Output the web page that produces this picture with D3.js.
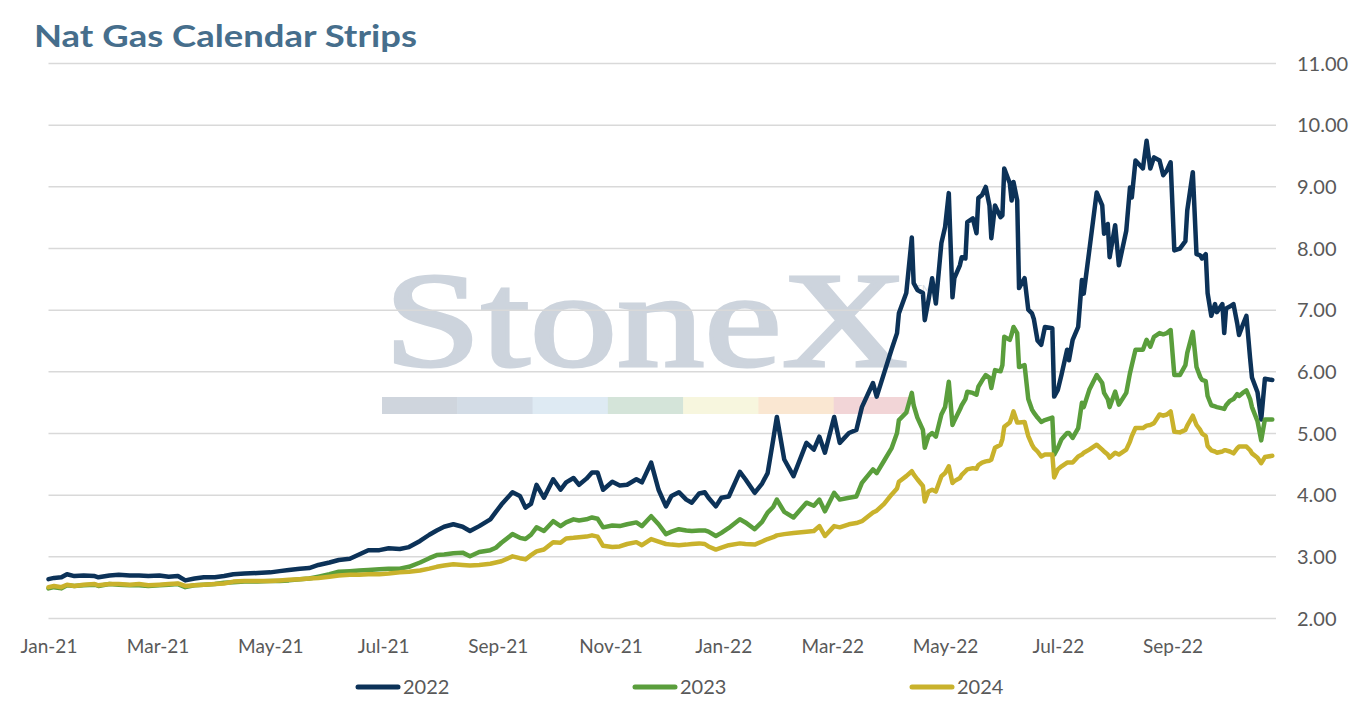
<!DOCTYPE html>
<html lang="en">
<head>
<meta charset="UTF-8">
<title>Nat Gas Calendar Strips</title>
<script src="https://cdnjs.cloudflare.com/ajax/libs/d3/7.8.5/d3.min.js"></script>
<style>
body { margin: 0; background: #fff; }
svg text { font-family: Lato, "Open Sans", sans-serif; }
.grid line { stroke: #d9d9d9; stroke-width: 1.5px; }
.axis text { fill: #595959; font-size: 19px; }
.series { fill: none; stroke-width: 4.5px; stroke-linejoin: round; stroke-linecap: round; }
</style>
</head>
<body>
<div id="chart"></div>
<script>
// settlement dates (rows of 10)
var dates = [
  "2021-01-01","2021-01-04","2021-01-08","2021-01-11","2021-01-15","2021-01-20","2021-01-26","2021-01-28","2021-02-03","2021-02-08",
  "2021-02-14","2021-02-19","2021-02-24","2021-03-02","2021-03-07","2021-03-12","2021-03-16","2021-03-21","2021-03-26","2021-04-01",
  "2021-04-06","2021-04-11","2021-04-17","2021-04-24","2021-05-01","2021-05-06","2021-05-11","2021-05-17","2021-05-22","2021-05-27",
  "2021-06-02","2021-06-07","2021-06-13","2021-06-18","2021-06-23","2021-06-29","2021-07-04","2021-07-10","2021-07-15","2021-07-21",
  "2021-07-26","2021-07-30","2021-08-03","2021-08-08","2021-08-13","2021-08-17","2021-08-22","2021-08-28","2021-08-31","2021-09-03",
  "2021-09-09","2021-09-13","2021-09-16","2021-09-19","2021-09-22","2021-09-26","2021-10-01","2021-10-05","2021-10-08","2021-10-12",
  "2021-10-15","2021-10-19","2021-10-22","2021-10-25","2021-10-28","2021-11-02","2021-11-06","2021-11-10","2021-11-15","2021-11-18",
  "2021-11-23","2021-11-27","2021-12-01","2021-12-04","2021-12-08","2021-12-12","2021-12-15","2021-12-19","2021-12-22","2021-12-24",
  "2021-12-28","2021-12-31","2022-01-04","2022-01-10","2022-01-13","2022-01-18","2022-01-22","2022-01-25","2022-01-28","2022-01-30",
  "2022-02-03","2022-02-08","2022-02-15","2022-02-19","2022-02-22","2022-02-25","2022-03-02","2022-03-05","2022-03-10","2022-03-14",
  "2022-03-17","2022-03-23","2022-03-25","2022-03-29","2022-04-02","2022-04-05","2022-04-06","2022-04-10","2022-04-13","2022-04-14",
  "2022-04-16","2022-04-19","2022-04-20","2022-04-22","2022-04-24","2022-04-26","2022-04-29","2022-05-01","2022-05-03","2022-05-05",
  "2022-05-06","2022-05-09","2022-05-10","2022-05-12","2022-05-13","2022-05-16","2022-05-18","2022-05-19","2022-05-21","2022-05-23",
  "2022-05-25","2022-05-26","2022-05-28","2022-05-31","2022-06-01","2022-06-02","2022-06-05","2022-06-06","2022-06-07","2022-06-09",
  "2022-06-10","2022-06-13","2022-06-15","2022-06-17","2022-06-18","2022-06-20","2022-06-22","2022-06-24","2022-06-28","2022-06-29",
  "2022-07-01","2022-07-03","2022-07-06","2022-07-07","2022-07-09","2022-07-12","2022-07-14","2022-07-15","2022-07-18","2022-07-22",
  "2022-07-25","2022-07-26","2022-07-28","2022-07-29","2022-08-01","2022-08-03","2022-08-07","2022-08-09","2022-08-10","2022-08-12",
  "2022-08-16","2022-08-18","2022-08-20","2022-08-22","2022-08-25","2022-08-27","2022-08-29","2022-08-31","2022-09-02","2022-09-05",
  "2022-09-08","2022-09-09","2022-09-12","2022-09-14","2022-09-16","2022-09-17","2022-09-19","2022-09-20","2022-09-22","2022-09-24",
  "2022-09-25","2022-09-28","2022-09-29","2022-09-30","2022-10-02","2022-10-04","2022-10-06","2022-10-07","2022-10-09","2022-10-11",
  "2022-10-13","2022-10-14","2022-10-17","2022-10-19","2022-10-21","2022-10-25"
];

var strip2022 = [
  2.63,2.65,2.66,2.71,2.68,2.69,2.68,2.66,2.69,2.70,
  2.69,2.69,2.68,2.69,2.67,2.68,2.61,2.64,2.66,2.66,
  2.68,2.71,2.72,2.73,2.74,2.76,2.78,2.80,2.81,2.86,
  2.90,2.94,2.96,3.03,3.10,3.10,3.13,3.12,3.15,3.25,
  3.35,3.42,3.48,3.52,3.48,3.41,3.49,3.60,3.72,3.84,
  4.04,3.98,3.79,3.85,4.16,3.95,4.25,4.08,4.20,4.27,
  4.16,4.26,4.36,4.36,4.08,4.21,4.15,4.16,4.25,4.20,
  4.52,4.08,3.81,3.98,4.04,3.92,3.87,4.02,4.04,3.95,
  3.81,3.95,3.97,4.37,4.25,4.03,4.18,4.35,4.89,5.26,
  4.57,4.30,4.84,4.73,4.94,4.68,5.26,4.84,5.00,5.05,
  5.42,5.81,5.59,5.97,6.35,6.62,6.94,7.27,8.17,7.43,
  7.32,7.27,6.83,7.15,7.51,7.10,8.08,8.34,8.89,7.20,
  7.51,7.72,7.85,7.83,8.42,8.48,8.24,8.81,8.86,8.99,
  8.69,8.16,8.69,8.50,8.53,9.29,9.05,8.77,9.07,8.77,
  7.35,7.51,7.00,6.94,6.85,6.50,6.43,6.72,6.70,5.59,
  5.70,5.95,6.35,6.18,6.51,6.72,7.48,7.26,7.96,8.90,
  8.69,8.23,8.39,7.85,8.37,7.72,8.28,8.98,8.82,9.42,
  9.29,9.74,9.29,9.47,9.42,9.18,9.26,9.39,7.96,7.99,
  8.11,8.61,9.23,7.90,7.88,7.83,7.90,7.27,6.90,7.09,
  6.96,7.09,6.62,7.02,7.05,7.09,6.78,6.59,6.75,6.90,
  6.21,5.90,5.66,5.22,5.88,5.86
];

var strip2023 = [
  2.48,2.50,2.48,2.53,2.52,2.53,2.54,2.52,2.55,2.54,
  2.53,2.53,2.52,2.53,2.54,2.55,2.50,2.53,2.54,2.55,
  2.57,2.58,2.59,2.59,2.60,2.60,2.61,2.63,2.64,2.67,
  2.71,2.75,2.76,2.77,2.78,2.79,2.80,2.80,2.83,2.90,
  2.97,3.02,3.03,3.05,3.06,3.00,3.07,3.10,3.14,3.22,
  3.36,3.30,3.28,3.35,3.47,3.41,3.57,3.49,3.55,3.60,
  3.58,3.60,3.63,3.61,3.47,3.50,3.49,3.52,3.55,3.49,
  3.65,3.52,3.36,3.40,3.44,3.42,3.41,3.42,3.42,3.40,
  3.33,3.38,3.46,3.60,3.55,3.44,3.56,3.71,3.80,3.92,
  3.72,3.63,3.87,3.82,3.92,3.73,4.03,3.92,3.95,3.97,
  4.19,4.41,4.35,4.55,4.75,5.00,5.21,5.33,5.65,5.45,
  5.25,5.05,4.76,4.95,5.00,4.94,5.30,5.42,5.83,5.13,
  5.20,5.38,5.45,5.55,5.67,5.65,5.62,5.75,5.85,5.94,
  5.90,5.73,6.02,6.00,6.10,6.56,6.51,6.60,6.72,6.62,
  6.07,6.10,5.55,5.38,5.33,5.25,5.18,5.21,5.25,4.65,
  4.76,4.90,5.00,5.00,4.92,5.08,5.49,5.42,5.70,5.94,
  5.81,5.65,5.55,5.42,5.67,5.46,5.65,5.97,6.10,6.35,
  6.35,6.51,6.40,6.56,6.62,6.60,6.62,6.67,5.94,5.94,
  6.10,6.30,6.64,6.07,5.91,5.86,5.84,5.60,5.45,5.43,
  5.42,5.40,5.39,5.45,5.52,5.55,5.63,5.60,5.65,5.69,
  5.55,5.42,5.19,4.88,5.22,5.22
];

var strip2024 = [
  2.50,2.52,2.50,2.54,2.52,2.54,2.55,2.53,2.55,2.55,
  2.54,2.55,2.53,2.54,2.55,2.56,2.52,2.53,2.54,2.55,
  2.56,2.59,2.60,2.60,2.60,2.61,2.62,2.63,2.64,2.65,
  2.67,2.69,2.70,2.70,2.71,2.71,2.72,2.74,2.75,2.77,
  2.80,2.83,2.85,2.87,2.86,2.85,2.86,2.88,2.90,2.92,
  3.00,2.97,2.95,3.02,3.08,3.11,3.23,3.22,3.29,3.30,
  3.31,3.32,3.34,3.32,3.17,3.15,3.16,3.20,3.23,3.18,
  3.28,3.24,3.20,3.19,3.18,3.19,3.20,3.21,3.20,3.16,
  3.11,3.14,3.18,3.21,3.20,3.19,3.24,3.28,3.31,3.34,
  3.36,3.38,3.40,3.41,3.49,3.33,3.49,3.47,3.52,3.54,
  3.57,3.71,3.74,3.85,4.00,4.10,4.21,4.30,4.38,4.33,
  4.25,4.14,3.89,4.05,4.08,4.05,4.30,4.35,4.46,4.19,
  4.22,4.27,4.32,4.38,4.41,4.43,4.42,4.48,4.52,4.54,
  4.55,4.57,4.76,4.81,4.90,5.10,5.17,5.25,5.35,5.17,
  5.17,5.18,4.95,4.81,4.76,4.70,4.62,4.65,4.65,4.28,
  4.41,4.46,4.52,4.52,4.52,4.62,4.65,4.68,4.73,4.81,
  4.73,4.70,4.65,4.60,4.68,4.65,4.73,4.86,4.95,5.08,
  5.08,5.12,5.13,5.16,5.30,5.28,5.30,5.35,5.02,5.01,
  5.05,5.12,5.28,5.13,5.05,4.99,4.95,4.79,4.72,4.70,
  4.68,4.70,4.72,4.72,4.70,4.67,4.75,4.78,4.78,4.78,
  4.72,4.67,4.60,4.51,4.61,4.63
];

var seriesNames = ["2022", "2023", "2024"];
var seriesColors = ["#0c3258", "#5a9e3c", "#c9b22c"];
var yTicks = [2, 3, 4, 5, 6, 7, 8, 9, 10, 11];
var xTicks = ["2021-01-01", "2021-03-01", "2021-05-01", "2021-07-01", "2021-09-01", "2021-11-01",
              "2022-01-01", "2022-03-01", "2022-05-01", "2022-07-01", "2022-09-01"];
var xDomain = ["2021-01-01", "2022-10-27"];
var bandColors = ["#cfd5dd", "#d3dce6", "#deeaf3", "#d4e4d9", "#f7f6de", "#fae7d2", "#f2d5d7"];

var W = 1354, H = 708;
// plot box (named to avoid window.top)
var plotL = 48.5, plotR = 1276, plotT = 63, plotB = 618;
var parse = d3.timeParse("%Y-%m-%d");

var svg = d3.select("#chart").append("svg")
    .attr("width", W)
    .attr("height", H);

svg.append("rect").attr("width", W).attr("height", H).attr("fill", "#fff");

var x = d3.scaleTime().domain(xDomain.map(parse)).range([plotL, plotR]);
var y = d3.scaleLinear().domain([2, 11]).range([plotB, plotT]);

// title
svg.append("text")
    .attr("x", 34)
    .attr("y", 47)
    .attr("fill", "#466e8c")
    .style("font-size", "31px")
    .style("font-weight", "700")
    .attr("textLength", 383)
    .attr("lengthAdjust", "spacingAndGlyphs")
    .text("Nat Gas Calendar Strips");

// watermark
var wm = svg.append("g").attr("class", "watermark");
wm.append("text")
    .attr("x", 384)
    .attr("y", 366)
    .attr("fill", "#cdd4dd")
    .attr("stroke", "#cdd4dd")
    .attr("stroke-width", 3)
    .style("font-family", "'Liberation Serif', 'DejaVu Serif', serif")
    .style("font-size", "136px")
    .attr("textLength", 524)
    .attr("lengthAdjust", "spacingAndGlyphs")
    .text("StoneX");
wm.append("text")
    .attr("x", 916)
    .attr("y", 292)
    .attr("fill", "#d5dbe2")
    .style("font-size", "10px")
    .text("TM");
var bandW = (909 - 382) / bandColors.length;
wm.selectAll("rect.band")
    .data(bandColors)
    .enter()
    .append("rect")
    .attr("class", "band")
    .attr("x", function(d, i) { return 382 + i * bandW; })
    .attr("y", 397)
    .attr("width", bandW + 0.5)
    .attr("height", 17)
    .attr("fill", function(d) { return d; });

// y axis on the right, gridlines from its ticks
var yAxis = svg.append("g")
    .attr("class", "axis grid")
    .attr("transform", "translate(" + plotR + ",0)")
    .call(d3.axisRight(y)
        .tickValues(yTicks)
        .tickFormat(d3.format(".2f"))
        .tickSize(-(plotR - plotL))
        .tickPadding(21));
yAxis.select(".domain").remove();
yAxis.selectAll("text").attr("dy", "0.36em").style("font-size", "20px");

// x axis
var xAxis = svg.append("g")
    .attr("class", "axis")
    .attr("transform", "translate(0," + plotB + ")")
    .call(d3.axisBottom(x)
        .tickValues(xTicks.map(parse))
        .tickFormat(d3.timeFormat("%b-%y"))
        .tickSize(0)
        .tickPadding(22));
xAxis.select(".domain").remove();

// series
var table = dates.map(function(d, i) {
    return { date: parse(d), v: [strip2022[i], strip2023[i], strip2024[i]] };
});

var line = function(k) {
    return d3.line()
        .x(function(d) { return x(d.date); })
        .y(function(d) { return y(d.v[k]); });
};

svg.selectAll("path.series")
    .data(seriesNames)
    .enter()
    .append("path")
    .attr("class", "series")
    .attr("stroke", function(d, i) { return seriesColors[i]; })
    .attr("d", function(d, i) { return line(i)(table); });

// legend
var legend = svg.selectAll("g.legend")
    .data(seriesNames)
    .enter()
    .append("g")
    .attr("class", "legend")
    .attr("transform", function(d, i) { return "translate(" + (358 + i * 277) + ",687)"; });

legend.append("line")
    .attr("x1", 0).attr("x2", 40)
    .attr("y1", 0).attr("y2", 0)
    .attr("stroke", function(d, i) { return seriesColors[i]; })
    .attr("stroke-width", 5)
    .attr("stroke-linecap", "round");

legend.append("text")
    .attr("x", 45)
    .attr("y", 7)
    .attr("fill", "#595959")
    .style("font-size", "20px")
    .text(function(d) { return d; });
</script>
</body>
</html>
